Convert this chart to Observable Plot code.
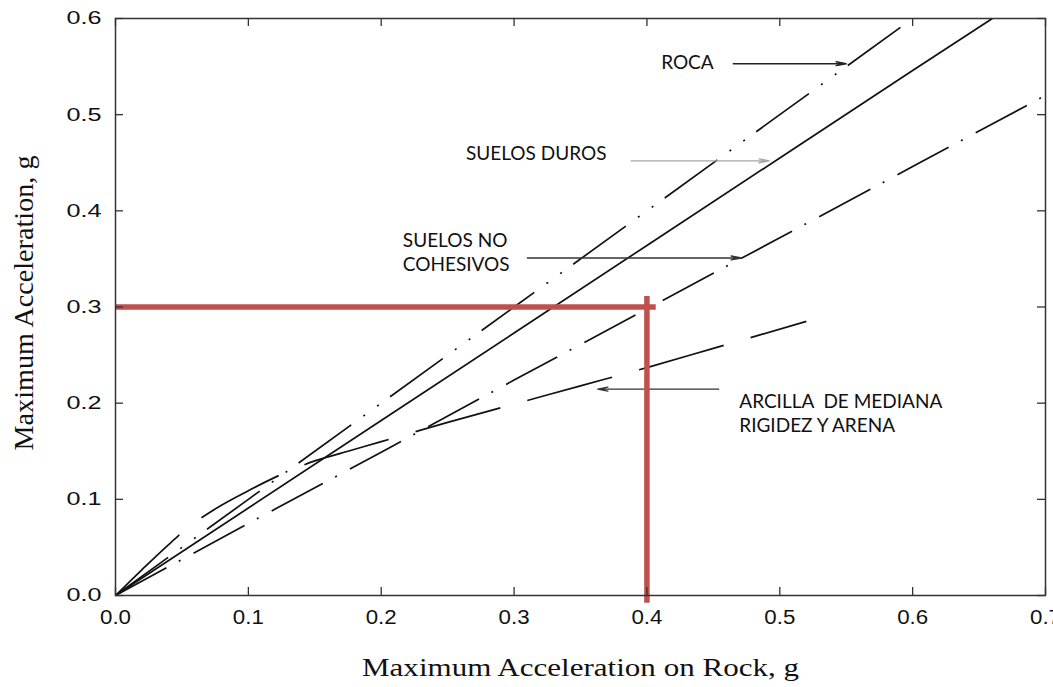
<!DOCTYPE html>
<html><head><meta charset="utf-8">
<script src="https://cdn.jsdelivr.net/npm/d3@7"></script>
<script src="https://cdn.jsdelivr.net/npm/@observablehq/plot@0.6"></script>
<style>html,body{margin:0;padding:0;overflow:hidden;background:#fff}</style>
</head><body><div id="chart"></div>
<script>
// ---- data ----
const xTicks = [0, 0.1, 0.2, 0.3, 0.4, 0.5, 0.6, 0.7];
const yTicks = [0, 0.1, 0.2, 0.3, 0.4, 0.5, 0.6];
const rockX  = [0, 0.1, 0.2, 0.3, 0.4, 0.5, 0.6];
const rockY  = [0, 0.1, 0.2, 0.3, 0.4, 0.5, 0.6];
const stiffX = [0, 0.1, 0.2, 0.3, 0.4, 0.5, 0.6, 0.66];
const stiffY = [0, 0.091, 0.182, 0.273, 0.364, 0.455, 0.546, 0.6];
const cohX   = [0, 0.1, 0.2, 0.3, 0.4, 0.5, 0.6, 0.7];
const cohY   = [0, 0.075, 0.149, 0.224, 0.298, 0.372, 0.446, 0.52];
const clayX  = [0, 0.02, 0.04, 0.055, 0.075, 0.1, 0.125, 0.15, 0.175, 0.2, 0.25, 0.3, 0.35, 0.4, 0.45, 0.52];
const clayY  = [0, 0.027, 0.053, 0.071, 0.090, 0.109, 0.126, 0.140, 0.150, 0.160, 0.180, 0.199, 0.218, 0.237, 0.257, 0.285];
const labels = ["ROCA", "SUELOS DUROS", "SUELOS NO\nCOHESIVOS", "ARCILLA\u00a0 DE MEDIANA\nRIGIDEZ Y ARENA"];
const labelX = [0.4107, 0.2638, 0.2163, 0.4695];
const labelY = [0.5552, 0.4609, 0.3576, 0.1906];
const arrowX1 = [0.465, 0.388, 0.31, 0.454];
const arrowX2 = [0.550, 0.492, 0.471, 0.363];
const arrowY  = [0.553, 0.452, 0.351, 0.2146];
const arrowColor = ["#222", "#a6a6a6", "#333", "#333"];
const readX = 0.4, readY = 0.3;
const xTitle = "Maximum Acceleration on Rock, g";
const yTitle = "Maximum Acceleration, g";

// ---- build ----
const pts = (xs, ys) => xs.map((x, i) => ({x, y: ys[i]}));
const W = 1053, H = 687, mL = 115, mR = 8, mT = 18, mB = 92;
const innerH = H - mT - mB, innerW = W - mL - mR;
const lineStyle = {x: "x", y: "y", stroke: "#111", strokeWidth: 1.7, strokeLinecap: "butt"};
const labelData = labels.map((t, i) => ({t, x: labelX[i], y: labelY[i]}));
const arrowData = arrowX1.map((x1, i) => ({x1, x2: arrowX2[i], y: arrowY[i], c: arrowColor[i]}));

const chart = Plot.plot({
  width: W, height: H,
  marginLeft: mL, marginRight: mR, marginTop: mT, marginBottom: mB,
  style: {background: "#fff", overflow: "hidden"},
  x: {domain: [0, 0.7]},
  y: {domain: [0, 0.6]},
  marks: [
    Plot.line(pts(rockX, rockY), {...lineStyle, strokeDasharray: "65,15,2,15,2,14"}),
    Plot.line(pts(stiffX, stiffY), {...lineStyle}),
    Plot.line(pts(cohX, cohY), {...lineStyle, strokeDasharray: "58,14,2,14.8"}),
    Plot.line(pts(clayX, clayY), {...lineStyle, curve: "monotone-x", strokeDasharray: "88,28"}),
    Plot.arrow(arrowData, {x1: "x1", x2: "x2", y1: "y", y2: "y", stroke: "c", strokeWidth: 1.4, headLength: 11, headAngle: 22}),
    Plot.text(labelData, {x: "x", y: "y", text: "t", textAnchor: "start", lineAnchor: "middle", fontFamily: "Lato", fontSize: 19, lineHeight: 1.27, fill: "#111"}),
    Plot.ruleY([readY], {x1: 0, x2: 0.407, stroke: "#c0504d", strokeWidth: 5.5}),
    Plot.ruleX([readX], {y1: -0.008, y2: 0.311, stroke: "#c0504d", strokeWidth: 5.5}),
    Plot.frame({stroke: "#333", strokeWidth: 1.5}),
    Plot.tickX(xTicks, {x: d => d, insetTop: innerH - 8, stroke: "#333", strokeWidth: 1.3}),
    Plot.tickX(xTicks, {x: d => d, insetBottom: innerH - 8, stroke: "#333", strokeWidth: 1.3}),
    Plot.tickY(yTicks, {y: d => d, insetRight: innerW - 8, stroke: "#333", strokeWidth: 1.3}),
    Plot.tickY(yTicks, {y: d => d, insetLeft: innerW - 8, stroke: "#333", strokeWidth: 1.3}),
    Plot.axisX({ticks: xTicks, tickSize: 0, tickPadding: 14, tickFormat: d3.format(".1f"), label: null, fontSize: 20, fontFamily: "Liberation Sans", fill: "#111"}),
    Plot.axisY({ticks: yTicks, tickSize: 0, tickPadding: 14, tickFormat: d3.format(".1f"), label: null, fontSize: 18.5, fontFamily: "Liberation Sans", fill: "#111"}),
    Plot.text([xTitle], {frameAnchor: "bottom", dy: 72, textAnchor: "middle", lineAnchor: "middle", fontFamily: "Liberation Serif", fontSize: 25, fill: "#111"}),
    Plot.text([yTitle], {frameAnchor: "left", rotate: -90, dx: -91, dy: -4, textAnchor: "middle", lineAnchor: "middle", fontFamily: "Liberation Serif", fontSize: 27, fill: "#111"})
  ]
});
document.getElementById("chart").appendChild(chart);
// stretch texts like the scanned original
const stretch = (sel, len) => sel.attr("textLength", len).attr("lengthAdjust", "spacingAndGlyphs");
d3.select(chart).selectAll("text").each(function() {
  const t = this.textContent;
  if (t === xTitle) stretch(d3.select(this), 437);
  if (t === yTitle) stretch(d3.select(this), 295);
});
stretch(d3.select(chart).selectAll('g[aria-label="y-axis tick label"] text'), 35);
stretch(d3.select(chart).selectAll('g[aria-label="x-axis tick label"] text'), 31);
d3.select(chart).selectAll("line").filter(function(){ return this.getAttribute("stroke") === "#c0504d"; })
  .style("filter", "drop-shadow(1px 2px 1.5px rgba(0,0,0,0.35))");
</script>
</body></html>
